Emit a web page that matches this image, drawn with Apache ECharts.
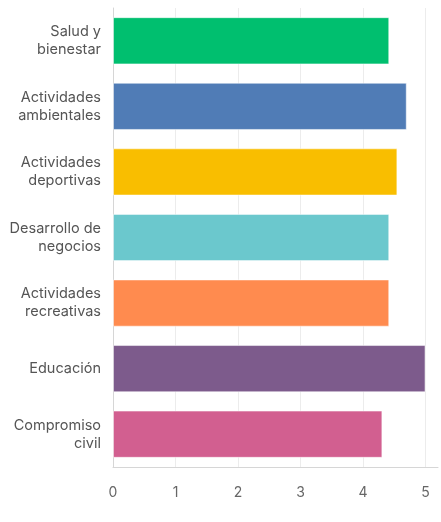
<!DOCTYPE html>
<html>
<head>
<meta charset="utf-8">
<script src="https://cdn.jsdelivr.net/npm/echarts@6/dist/echarts.min.js"></script>
<style>
html,body{margin:0;padding:0;background:#fff;}
#chart{width:441px;height:522px;}
</style>
</head>
<body>
<div id="chart"></div>
<script>
// categories top to bottom
var categories = ['Salud y\nbienestar', 'Actividades\nambientales', 'Actividades\ndeportivas', 'Desarrollo de\nnegocios', 'Actividades\nrecreativas', 'Educación', 'Compromiso\ncivil'];
var values = [4.42, 4.70, 4.55, 4.42, 4.42, 5.0, 4.31];
var colors = ['#00BF6F', '#507CB6', '#F9BE00', '#6BC8CD', '#FF8B4F', '#7D5B8C', '#D25F90'];
var ticks = [0, 1, 2, 3, 4, 5];

var myChart = echarts.init(document.getElementById('chart'));
var option = {
  animation: false,
  grid: {
    left: 113,
    right: 3,
    top: 8,
    bottom: 55
  },
  xAxis: {
    type: 'value',
    min: 0,
    max: 5.2,
    interval: 1,
    axisLine: { show: true, lineStyle: { color: '#d6d6d6' } },
    axisTick: { show: false },
    splitLine: { show: true, showMaxLine: false, lineStyle: { color: '#ececec' } },
    axisLabel: {
      showMaxLabel: false,
      margin: 19,
      color: '#666',
      fontSize: 14,
      fontFamily: 'Inter',
      formatter: function (v) { return ticks.indexOf(v) >= 0 ? String(v) : ''; }
    }
  },
  yAxis: {
    type: 'category',
    inverse: true,
    data: categories,
    axisLine: { show: true, lineStyle: { color: '#d6d6d6' } },
    axisTick: { show: false },
    axisLabel: {
      margin: 12,
      color: '#555',
      fontSize: 14.5,
      lineHeight: 18,
      fontFamily: 'Inter',
      align: 'right'
    }
  },
  series: [{
    type: 'bar',
    barCategoryGap: '28%',
    data: values.map(function (v, i) {
      return { value: v, itemStyle: { color: colors[i], borderColor: 'rgba(255,255,255,0.5)', borderWidth: 1 } };
    })
  }]
};
myChart.setOption(option);
</script>
</body>
</html>
